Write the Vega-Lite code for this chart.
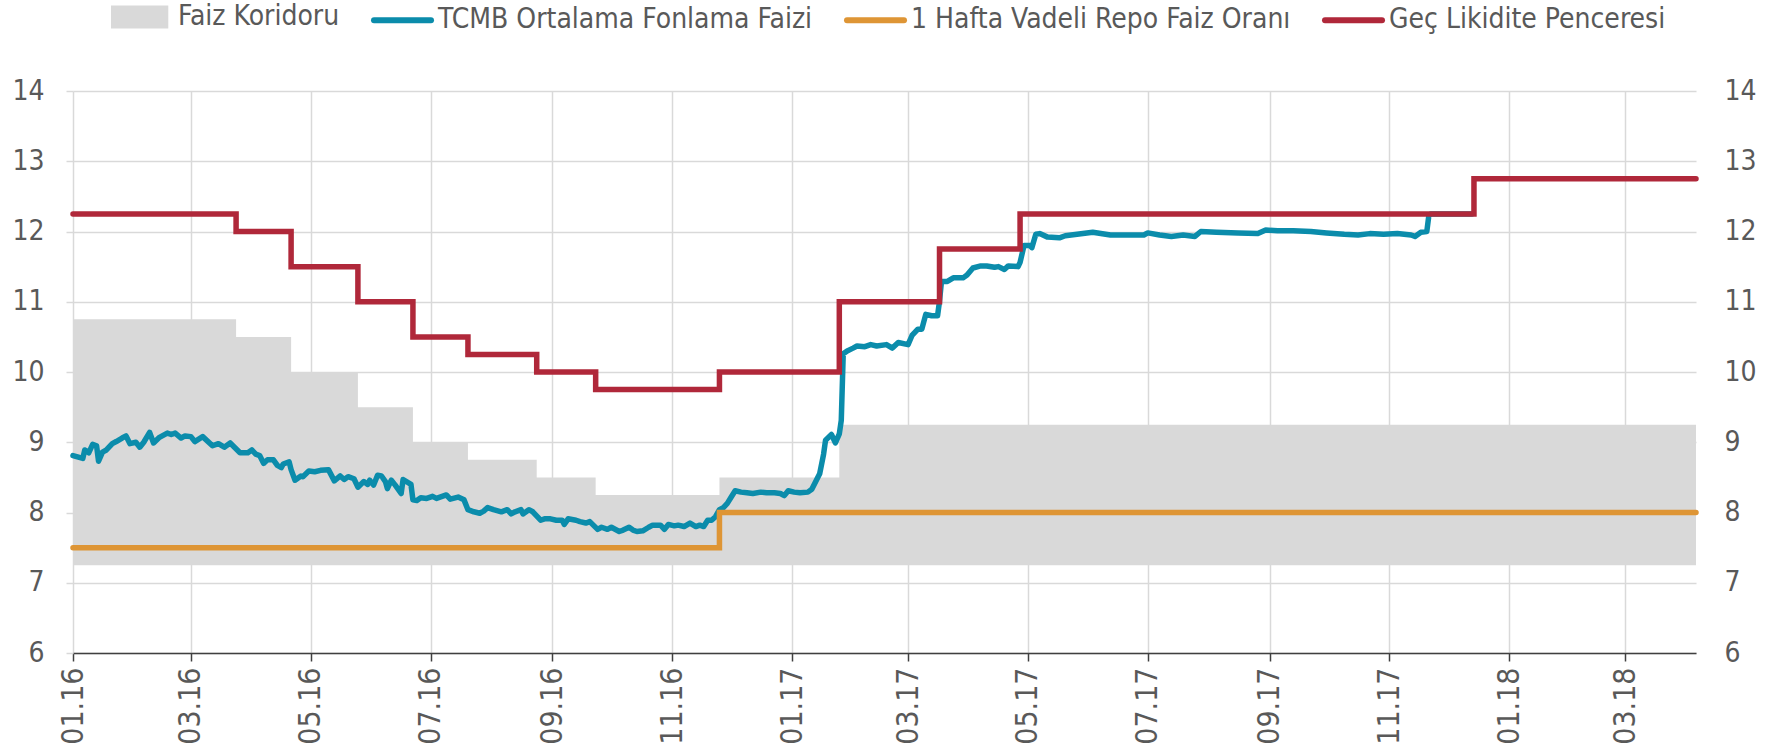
{
  "$schema": "https://vega.github.io/schema/vega-lite/v6.json",
  "autosize": {"type": "none"},
  "width": 1623,
  "height": 562,
  "padding": {"left": 73, "top": 91, "right": 85, "bottom": 99},
  "background": "white",
  "config": {
    "view": {"stroke": null},
    "font": "DejaVu Sans Condensed",
    "axis": {"labelFont": "DejaVu Sans Condensed", "labelColor": "#595959", "titleFont": "DejaVu Sans Condensed"},
    "legend": {"labelFont": "DejaVu Sans Condensed"}
  },
  "datasets": {
    "corridor": [
      {"date": "2016-01-01", "lo": 7.25, "hi": 10.75, "series": "Faiz Koridoru"},
      {"date": "2016-03-24", "lo": 7.25, "hi": 10.5, "series": "Faiz Koridoru"},
      {"date": "2016-04-21", "lo": 7.25, "hi": 10.0, "series": "Faiz Koridoru"},
      {"date": "2016-05-25", "lo": 7.25, "hi": 9.5, "series": "Faiz Koridoru"},
      {"date": "2016-06-22", "lo": 7.25, "hi": 9.0, "series": "Faiz Koridoru"},
      {"date": "2016-07-20", "lo": 7.25, "hi": 8.75, "series": "Faiz Koridoru"},
      {"date": "2016-08-24", "lo": 7.25, "hi": 8.5, "series": "Faiz Koridoru"},
      {"date": "2016-09-23", "lo": 7.25, "hi": 8.25, "series": "Faiz Koridoru"},
      {"date": "2016-11-25", "lo": 7.25, "hi": 8.5, "series": "Faiz Koridoru"},
      {"date": "2017-01-25", "lo": 7.25, "hi": 9.25, "series": "Faiz Koridoru"},
      {"date": "2018-04-06", "lo": 7.25, "hi": 9.25, "series": "Faiz Koridoru"}
    ],
    "steps": [
      {"date": "2016-01-01", "value": 7.5, "series": "1 Hafta Vadeli Repo Faiz Oranı"},
      {"date": "2016-11-25", "value": 8.0, "series": "1 Hafta Vadeli Repo Faiz Oranı"},
      {"date": "2018-04-06", "value": 8.0, "series": "1 Hafta Vadeli Repo Faiz Oranı"},
      {"date": "2016-01-01", "value": 12.25, "series": "Geç Likidite Penceresi"},
      {"date": "2016-03-24", "value": 12.0, "series": "Geç Likidite Penceresi"},
      {"date": "2016-04-21", "value": 11.5, "series": "Geç Likidite Penceresi"},
      {"date": "2016-05-25", "value": 11.0, "series": "Geç Likidite Penceresi"},
      {"date": "2016-06-22", "value": 10.5, "series": "Geç Likidite Penceresi"},
      {"date": "2016-07-20", "value": 10.25, "series": "Geç Likidite Penceresi"},
      {"date": "2016-08-24", "value": 10.0, "series": "Geç Likidite Penceresi"},
      {"date": "2016-09-23", "value": 9.75, "series": "Geç Likidite Penceresi"},
      {"date": "2016-11-25", "value": 10.0, "series": "Geç Likidite Penceresi"},
      {"date": "2017-01-25", "value": 11.0, "series": "Geç Likidite Penceresi"},
      {"date": "2017-03-17", "value": 11.75, "series": "Geç Likidite Penceresi"},
      {"date": "2017-04-27", "value": 12.25, "series": "Geç Likidite Penceresi"},
      {"date": "2017-12-14", "value": 12.75, "series": "Geç Likidite Penceresi"},
      {"date": "2018-04-06", "value": 12.75, "series": "Geç Likidite Penceresi"}
    ],
    "tcmb": [
      {"date": "2016-01-01", "value": 8.81}, {"date": "2016-01-06", "value": 8.77}, {"date": "2016-01-07", "value": 8.89},
      {"date": "2016-01-09", "value": 8.85}, {"date": "2016-01-11", "value": 8.97}, {"date": "2016-01-13", "value": 8.95},
      {"date": "2016-01-14", "value": 8.73}, {"date": "2016-01-16", "value": 8.86}, {"date": "2016-01-18", "value": 8.89},
      {"date": "2016-01-21", "value": 8.98}, {"date": "2016-01-23", "value": 9.01}, {"date": "2016-01-26", "value": 9.06},
      {"date": "2016-01-28", "value": 9.09}, {"date": "2016-01-30", "value": 8.98}, {"date": "2016-02-02", "value": 9.0},
      {"date": "2016-02-04", "value": 8.93}, {"date": "2016-02-06", "value": 9.0}, {"date": "2016-02-09", "value": 9.14},
      {"date": "2016-02-11", "value": 8.99}, {"date": "2016-02-14", "value": 9.07}, {"date": "2016-02-18", "value": 9.13},
      {"date": "2016-02-20", "value": 9.11}, {"date": "2016-02-22", "value": 9.13}, {"date": "2016-02-25", "value": 9.06},
      {"date": "2016-02-27", "value": 9.09}, {"date": "2016-03-01", "value": 9.08}, {"date": "2016-03-03", "value": 9.01},
      {"date": "2016-03-07", "value": 9.08}, {"date": "2016-03-12", "value": 8.95}, {"date": "2016-03-15", "value": 8.98},
      {"date": "2016-03-18", "value": 8.93}, {"date": "2016-03-21", "value": 8.99}, {"date": "2016-03-26", "value": 8.85},
      {"date": "2016-03-30", "value": 8.85}, {"date": "2016-04-01", "value": 8.89}, {"date": "2016-04-03", "value": 8.83},
      {"date": "2016-04-05", "value": 8.81}, {"date": "2016-04-07", "value": 8.7}, {"date": "2016-04-09", "value": 8.75},
      {"date": "2016-04-12", "value": 8.75}, {"date": "2016-04-14", "value": 8.67}, {"date": "2016-04-16", "value": 8.64},
      {"date": "2016-04-17", "value": 8.69}, {"date": "2016-04-20", "value": 8.72}, {"date": "2016-04-21", "value": 8.61},
      {"date": "2016-04-23", "value": 8.46}, {"date": "2016-04-26", "value": 8.52}, {"date": "2016-04-27", "value": 8.51},
      {"date": "2016-04-30", "value": 8.59}, {"date": "2016-05-03", "value": 8.58}, {"date": "2016-05-06", "value": 8.6},
      {"date": "2016-05-10", "value": 8.61}, {"date": "2016-05-13", "value": 8.45}, {"date": "2016-05-16", "value": 8.52},
      {"date": "2016-05-18", "value": 8.47}, {"date": "2016-05-20", "value": 8.51}, {"date": "2016-05-23", "value": 8.48},
      {"date": "2016-05-25", "value": 8.36}, {"date": "2016-05-28", "value": 8.44}, {"date": "2016-05-30", "value": 8.4},
      {"date": "2016-05-31", "value": 8.46}, {"date": "2016-06-02", "value": 8.39}, {"date": "2016-06-04", "value": 8.53},
      {"date": "2016-06-06", "value": 8.52}, {"date": "2016-06-08", "value": 8.44}, {"date": "2016-06-09", "value": 8.34},
      {"date": "2016-06-11", "value": 8.46}, {"date": "2016-06-13", "value": 8.39}, {"date": "2016-06-16", "value": 8.27},
      {"date": "2016-06-17", "value": 8.47}, {"date": "2016-06-21", "value": 8.4}, {"date": "2016-06-22", "value": 8.18},
      {"date": "2016-06-24", "value": 8.17}, {"date": "2016-06-26", "value": 8.21}, {"date": "2016-06-29", "value": 8.2},
      {"date": "2016-07-02", "value": 8.23}, {"date": "2016-07-04", "value": 8.2}, {"date": "2016-07-09", "value": 8.25},
      {"date": "2016-07-11", "value": 8.19}, {"date": "2016-07-15", "value": 8.22}, {"date": "2016-07-18", "value": 8.18},
      {"date": "2016-07-20", "value": 8.04}, {"date": "2016-07-23", "value": 8.01}, {"date": "2016-07-26", "value": 7.99},
      {"date": "2016-07-28", "value": 8.02}, {"date": "2016-07-30", "value": 8.07}, {"date": "2016-08-02", "value": 8.04},
      {"date": "2016-08-06", "value": 8.01}, {"date": "2016-08-09", "value": 8.04}, {"date": "2016-08-11", "value": 7.98},
      {"date": "2016-08-13", "value": 8.01}, {"date": "2016-08-16", "value": 8.04}, {"date": "2016-08-17", "value": 7.98},
      {"date": "2016-08-20", "value": 8.04}, {"date": "2016-08-22", "value": 8.01}, {"date": "2016-08-26", "value": 7.89},
      {"date": "2016-08-28", "value": 7.91}, {"date": "2016-08-31", "value": 7.91}, {"date": "2016-09-03", "value": 7.89},
      {"date": "2016-09-06", "value": 7.89}, {"date": "2016-09-07", "value": 7.83}, {"date": "2016-09-09", "value": 7.91},
      {"date": "2016-09-13", "value": 7.89}, {"date": "2016-09-15", "value": 7.87}, {"date": "2016-09-18", "value": 7.85},
      {"date": "2016-09-20", "value": 7.87}, {"date": "2016-09-24", "value": 7.76}, {"date": "2016-09-26", "value": 7.79},
      {"date": "2016-09-29", "value": 7.76}, {"date": "2016-10-01", "value": 7.79}, {"date": "2016-10-05", "value": 7.73},
      {"date": "2016-10-07", "value": 7.75}, {"date": "2016-10-10", "value": 7.79}, {"date": "2016-10-12", "value": 7.75},
      {"date": "2016-10-14", "value": 7.73}, {"date": "2016-10-17", "value": 7.74}, {"date": "2016-10-20", "value": 7.79},
      {"date": "2016-10-22", "value": 7.82}, {"date": "2016-10-26", "value": 7.82}, {"date": "2016-10-28", "value": 7.76},
      {"date": "2016-10-30", "value": 7.83}, {"date": "2016-11-02", "value": 7.81}, {"date": "2016-11-04", "value": 7.82},
      {"date": "2016-11-07", "value": 7.8}, {"date": "2016-11-10", "value": 7.85}, {"date": "2016-11-13", "value": 7.8},
      {"date": "2016-11-15", "value": 7.82}, {"date": "2016-11-17", "value": 7.8}, {"date": "2016-11-19", "value": 7.89},
      {"date": "2016-11-21", "value": 7.89}, {"date": "2016-11-23", "value": 7.94}, {"date": "2016-11-25", "value": 8.04},
      {"date": "2016-11-27", "value": 8.07}, {"date": "2016-11-29", "value": 8.13}, {"date": "2016-12-01", "value": 8.22},
      {"date": "2016-12-03", "value": 8.31}, {"date": "2016-12-06", "value": 8.29}, {"date": "2016-12-09", "value": 8.28},
      {"date": "2016-12-12", "value": 8.27}, {"date": "2016-12-16", "value": 8.29}, {"date": "2016-12-19", "value": 8.28},
      {"date": "2016-12-23", "value": 8.28}, {"date": "2016-12-26", "value": 8.27}, {"date": "2016-12-28", "value": 8.24},
      {"date": "2016-12-30", "value": 8.31}, {"date": "2017-01-02", "value": 8.29}, {"date": "2017-01-05", "value": 8.28},
      {"date": "2017-01-09", "value": 8.29}, {"date": "2017-01-11", "value": 8.33}, {"date": "2017-01-13", "value": 8.44},
      {"date": "2017-01-15", "value": 8.55}, {"date": "2017-01-17", "value": 8.83}, {"date": "2017-01-18", "value": 9.03},
      {"date": "2017-01-21", "value": 9.11}, {"date": "2017-01-23", "value": 8.99}, {"date": "2017-01-25", "value": 9.12},
      {"date": "2017-01-26", "value": 9.31}, {"date": "2017-01-27", "value": 10.26}, {"date": "2017-01-29", "value": 10.3},
      {"date": "2017-02-01", "value": 10.34}, {"date": "2017-02-03", "value": 10.37}, {"date": "2017-02-07", "value": 10.36},
      {"date": "2017-02-10", "value": 10.39}, {"date": "2017-02-13", "value": 10.37}, {"date": "2017-02-18", "value": 10.39},
      {"date": "2017-02-21", "value": 10.34}, {"date": "2017-02-24", "value": 10.42}, {"date": "2017-03-01", "value": 10.39},
      {"date": "2017-03-03", "value": 10.52}, {"date": "2017-03-06", "value": 10.61}, {"date": "2017-03-08", "value": 10.61},
      {"date": "2017-03-10", "value": 10.82}, {"date": "2017-03-13", "value": 10.8}, {"date": "2017-03-16", "value": 10.8},
      {"date": "2017-03-17", "value": 11.01}, {"date": "2017-03-18", "value": 11.29}, {"date": "2017-03-21", "value": 11.29},
      {"date": "2017-03-24", "value": 11.34}, {"date": "2017-03-29", "value": 11.34}, {"date": "2017-03-31", "value": 11.38},
      {"date": "2017-04-03", "value": 11.48}, {"date": "2017-04-07", "value": 11.51}, {"date": "2017-04-10", "value": 11.51},
      {"date": "2017-04-14", "value": 11.49}, {"date": "2017-04-16", "value": 11.5}, {"date": "2017-04-19", "value": 11.46},
      {"date": "2017-04-21", "value": 11.51}, {"date": "2017-04-26", "value": 11.5}, {"date": "2017-04-27", "value": 11.56},
      {"date": "2017-04-29", "value": 11.8}, {"date": "2017-05-02", "value": 11.8}, {"date": "2017-05-03", "value": 11.77},
      {"date": "2017-05-05", "value": 11.96}, {"date": "2017-05-07", "value": 11.97}, {"date": "2017-05-11", "value": 11.92},
      {"date": "2017-05-17", "value": 11.91}, {"date": "2017-05-20", "value": 11.94}, {"date": "2017-05-26", "value": 11.96},
      {"date": "2017-06-03", "value": 11.99}, {"date": "2017-06-12", "value": 11.95}, {"date": "2017-06-21", "value": 11.95},
      {"date": "2017-06-29", "value": 11.95}, {"date": "2017-07-01", "value": 11.98}, {"date": "2017-07-07", "value": 11.95},
      {"date": "2017-07-13", "value": 11.93}, {"date": "2017-07-19", "value": 11.95}, {"date": "2017-07-25", "value": 11.93},
      {"date": "2017-07-28", "value": 12.0}, {"date": "2017-08-05", "value": 11.99}, {"date": "2017-08-16", "value": 11.98},
      {"date": "2017-08-26", "value": 11.97}, {"date": "2017-08-30", "value": 12.02}, {"date": "2017-09-05", "value": 12.01},
      {"date": "2017-09-13", "value": 12.01}, {"date": "2017-09-22", "value": 12.0}, {"date": "2017-09-30", "value": 11.98},
      {"date": "2017-10-09", "value": 11.96}, {"date": "2017-10-16", "value": 11.95}, {"date": "2017-10-22", "value": 11.97},
      {"date": "2017-10-29", "value": 11.96}, {"date": "2017-11-05", "value": 11.97}, {"date": "2017-11-12", "value": 11.95},
      {"date": "2017-11-14", "value": 11.93}, {"date": "2017-11-17", "value": 11.99}, {"date": "2017-11-20", "value": 12.0},
      {"date": "2017-11-21", "value": 12.22}, {"date": "2017-11-22", "value": 12.25}, {"date": "2017-12-13", "value": 12.25}
    ]
  },
  "layer": [
    {
      "data": {"name": "corridor"},
      "mark": {"type": "area", "interpolate": "step-after", "color": "#d9d9d9"},
      "encoding": {
        "x": {
          "field": "date", "type": "temporal",
          "scale": {"type": "utc", "domain": [{"year": 2016, "month": 1, "date": 1, "utc": true}, {"year": 2018, "month": 4, "date": 6, "utc": true}], "nice": false},
          "axis": {
            "title": null, "format": "%m.%y", "tickCount": {"interval": "month", "step": 2},
            "labelAngle": 270, "labelFontSize": 30, "labelPadding": 6, "labelColor": "#595959",
            "grid": true, "gridColor": "#d9d9d9", "gridWidth": 1.5,
            "domainColor": "#404040", "domainWidth": 1.5, "tickColor": "#404040", "tickWidth": 1.5, "tickSize": 8,
            "labelFlush": false, "labelOverlap": false
          }
        },
        "y": {
          "field": "lo", "type": "quantitative",
          "scale": {"domain": [6, 14], "nice": false, "zero": false},
          "axis": {
            "title": null, "orient": "left", "values": [6, 7, 8, 9, 10, 11, 12, 13, 14],
            "labelFontSize": 28, "labelPadding": 22, "labelColor": "#595959",
            "grid": true, "gridColor": "#d9d9d9", "gridWidth": 1.5,
            "domain": false, "tickColor": "#d9d9d9", "tickWidth": 1.5, "tickSize": 7
          }
        },
        "y2": {"field": "hi"},
        "color": {
          "field": "series", "type": "nominal",
          "scale": {
            "domain": ["Faiz Koridoru", "TCMB Ortalama Fonlama Faizi", "1 Hafta Vadeli Repo Faiz Oranı", "Geç Likidite Penceresi"],
            "range": ["#d9d9d9", "#0b8cab", "#de9535", "#b0283a"]
          },
          "legend": {
            "orient": "none", "legendX": 38, "legendY": -106, "direction": "horizontal", "title": null,
            "labelFontSize": 28, "labelColor": "#595959", "labelOffset": 4, "columnPadding": 22, "labelLimit": 0,
            "symbolSize": 3249, "symbolStrokeWidth": 6,
            "encode": {
              "symbols": {
                "update": {
                  "shape": {"signal": "datum.value === 'Faiz Koridoru' ? 'M-1,-0.3H0.8V0.3H-1Z' : 'stroke'"},
                  "fill": {"signal": "datum.value === 'Faiz Koridoru' ? '#d9d9d9' : 'transparent'"},
                  "stroke": {"signal": "datum.value === 'Faiz Koridoru' ? 'transparent' : datum.value === 'TCMB Ortalama Fonlama Faizi' ? '#0b8cab' : datum.value === 'Geç Likidite Penceresi' ? '#b0283a' : '#de9535'"},
                  "strokeWidth": {"value": 6},
                  "strokeCap": {"value": "round"},
                  "opacity": {"value": 1}
                }
              }
            }
          }
        }
      }
    },
    {
      "data": {"name": "tcmb"},
      "transform": [{"calculate": "'TCMB Ortalama Fonlama Faizi'", "as": "series"}],
      "mark": {"type": "line", "strokeWidth": 5.5, "strokeJoin": "round", "strokeCap": "round"},
      "encoding": {
        "x": {"field": "date", "type": "temporal"},
        "y": {
          "field": "value", "type": "quantitative",
          "axis": {
            "title": null, "orient": "right", "values": [6, 7, 8, 9, 10, 11, 12, 13, 14],
            "labelFontSize": 28, "labelPadding": 28, "labelColor": "#595959",
            "grid": false, "domain": false, "ticks": false
          }
        },
        "color": {"field": "series", "type": "nominal"}
      }
    },
    {
      "data": {"name": "steps"},
      "mark": {"type": "line", "interpolate": "step-after", "strokeWidth": 5.5, "strokeCap": "round"},
      "encoding": {
        "x": {"field": "date", "type": "temporal"},
        "y": {"field": "value", "type": "quantitative", "axis": null},
        "color": {"field": "series", "type": "nominal"}
      }
    }
  ],
  "resolve": {"axis": {"y": "independent"}}
}
